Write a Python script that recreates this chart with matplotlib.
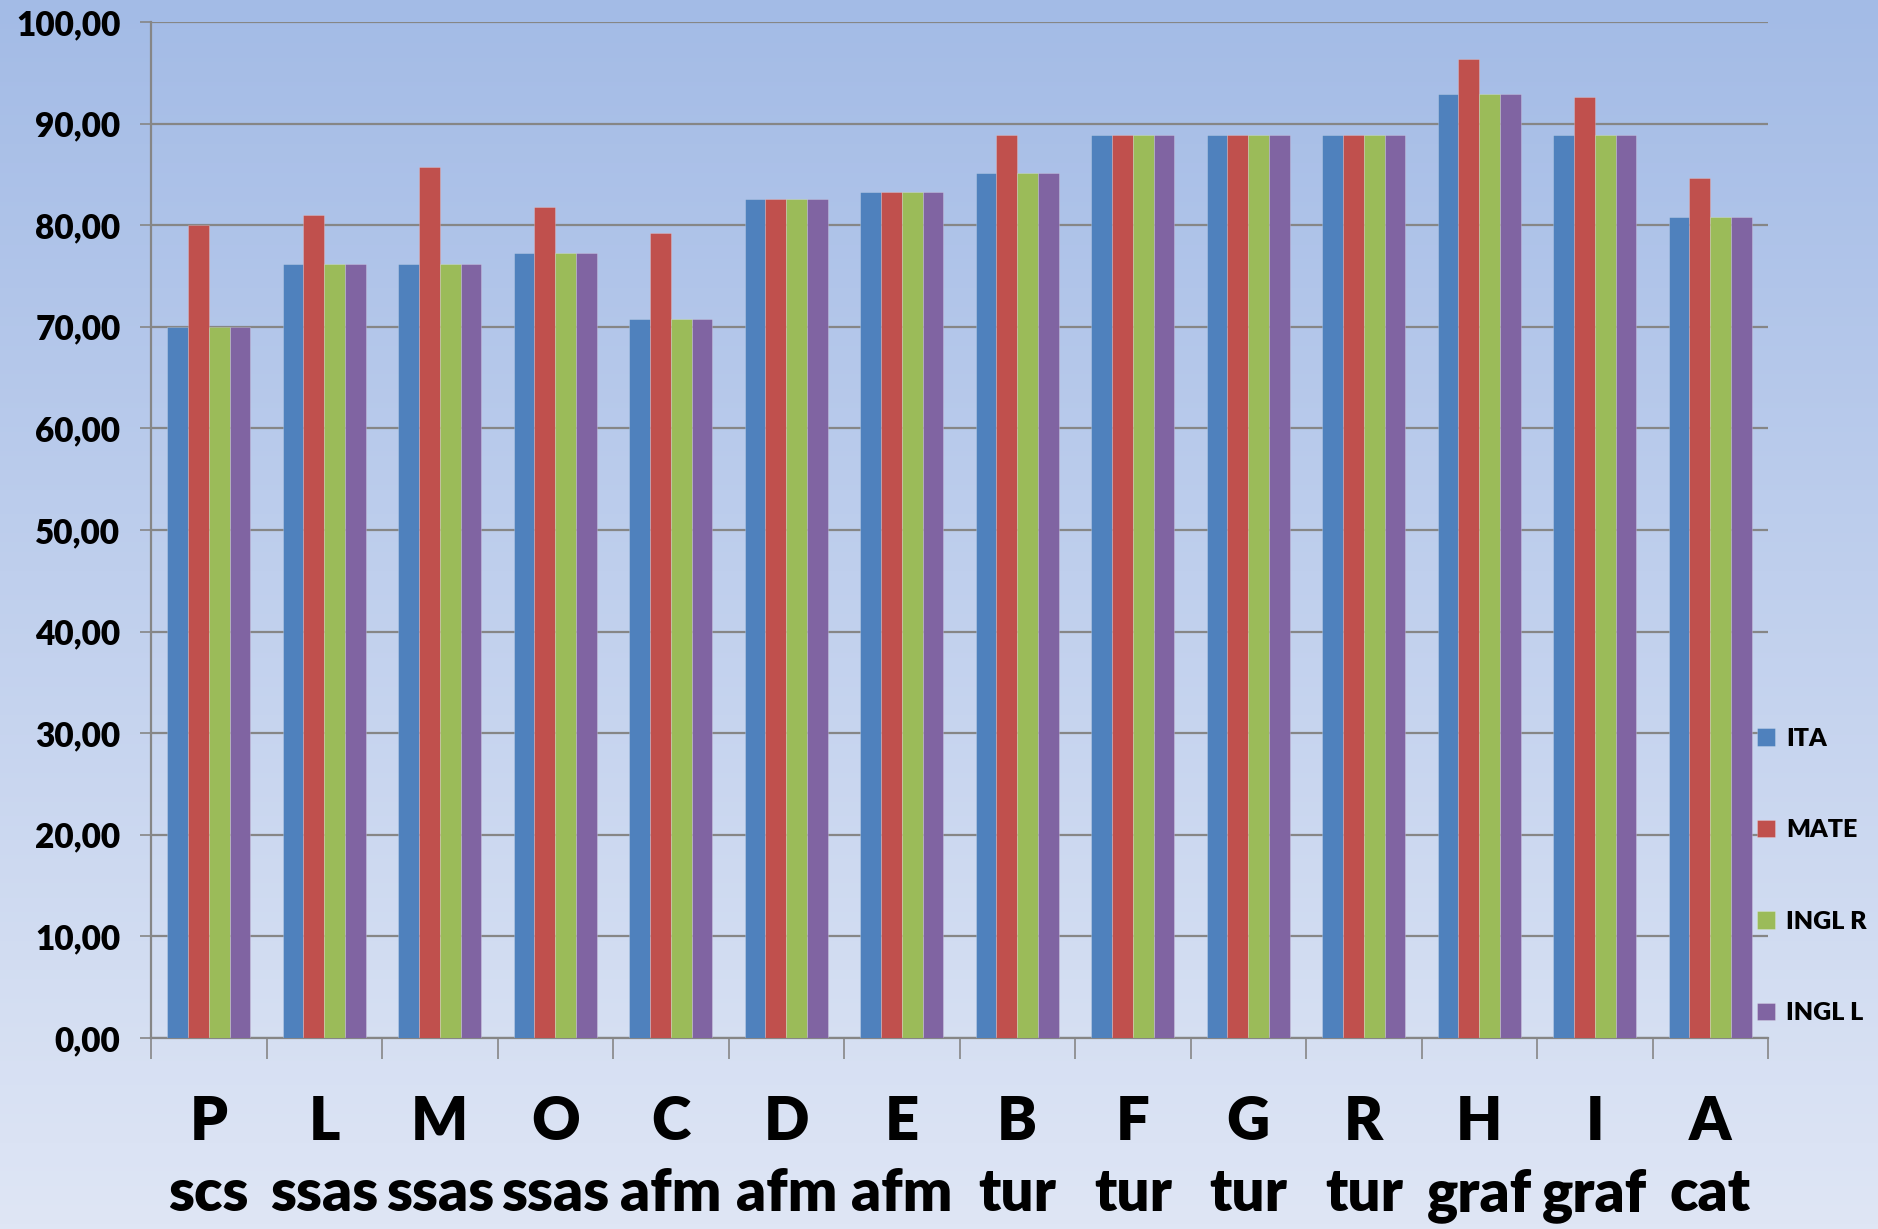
import numpy as np
import matplotlib
matplotlib.use("Agg")
import matplotlib.pyplot as plt
from matplotlib.colors import LinearSegmentedColormap
from matplotlib.ticker import FuncFormatter

plt.rcParams['font.family'] = ['Lato', 'DejaVu Sans']

classes = ["P", "L", "M", "O", "C", "D", "E", "B", "F", "G", "R", "H", "I", "A"]
courses = ["scs", "ssas", "ssas", "ssas", "afm", "afm", "afm", "tur", "tur", "tur", "tur", "graf", "graf", "cat"]
series = ["ITA", "MATE", "INGL R", "INGL L"]

ita = [70.0, 76.2, 76.2, 77.3, 70.8, 82.6, 83.3, 85.1, 88.9, 88.9, 88.9, 92.9, 88.9, 80.8]
mate = [80.0, 81.0, 85.7, 81.8, 79.2, 82.6, 83.3, 88.9, 88.9, 88.9, 88.9, 96.4, 92.6, 84.6]
ingl_r = [70.0, 76.2, 76.2, 77.3, 70.8, 82.6, 83.3, 85.1, 88.9, 88.9, 88.9, 92.9, 88.9, 80.8]
ingl_l = [70.0, 76.2, 76.2, 77.3, 70.8, 82.6, 83.3, 85.1, 88.9, 88.9, 88.9, 92.9, 88.9, 80.8]

colors = ["#4f81bd", "#c0504d", "#9bbb59", "#8064a2"]

W, H = 1878, 1229
fig = plt.figure(figsize=(W / 100, H / 100), dpi=100)

# gradient background
bg = fig.add_axes([0, 0, 1, 1], zorder=-10)
grad = np.linspace(0, 1, 256).reshape(-1, 1)
cmap = LinearSegmentedColormap.from_list("bg", ["#a3bbe6", "#dfe6f5"])
bg.imshow(grad, aspect="auto", cmap=cmap, extent=[0, 1, 0, 1])
bg.axis("off")

left, right, top, bottom = 151, 1768, 22, 1038
ax = fig.add_axes([left / W, 1 - bottom / H, (right - left) / W, (bottom - top) / H])
ax.set_facecolor("none")

x = np.arange(len(classes))
w = 0.18
for k, (vals, name) in enumerate(zip([ita, mate, ingl_r, ingl_l], series)):
    ax.bar(x + (k - 1.5) * w, vals, w, color=colors[k], label=name, zorder=3,
           edgecolor=(1, 1, 1, 0.25), linewidth=0.6)

ax.set_xlim(-0.5, len(classes) - 0.5)
ax.set_ylim(0, 100)
ax.set_yticks(np.arange(0, 101, 10))
ax.yaxis.set_major_formatter(FuncFormatter(lambda v, p: f"{v:.2f}".replace(".", ",")))
ax.grid(axis="y", color="#868686", linewidth=1.6, zorder=0)
ax.tick_params(axis="y", length=8, width=1.2, color="#868686", pad=14, labelsize=24)
for lab in ax.get_yticklabels():
    lab.set_fontweight("heavy")

ax.set_xticks(np.arange(-0.5, len(classes), 1.0))
ax.set_xticklabels([])
ax.tick_params(axis="x", length=15, width=1.2, color="#868686")

for s in ["top", "right"]:
    ax.spines[s].set_visible(False)
for s in ["left", "bottom"]:
    ax.spines[s].set_color("#868686")
    ax.spines[s].set_linewidth(1.6)

tr = ax.get_xaxis_transform()
for i, (c, s) in enumerate(zip(classes, courses)):
    ax.text(i, -0.0835, c, transform=tr, ha="center", va="center", fontsize=43, fontweight="heavy")
    ax.text(i, -0.1705, s, transform=tr, ha="center", va="baseline", fontsize=42, fontweight="heavy")

fig.legend(loc="center left", bbox_to_anchor=(1757 / W, 1 - 876 / H), frameon=False,
           prop={"size": 18, "weight": "heavy"}, handlelength=0.7, handleheight=0.7,
           handletextpad=0.45, labelspacing=2.78, borderpad=0, borderaxespad=0)

fig.savefig("out.png", dpi=100)
